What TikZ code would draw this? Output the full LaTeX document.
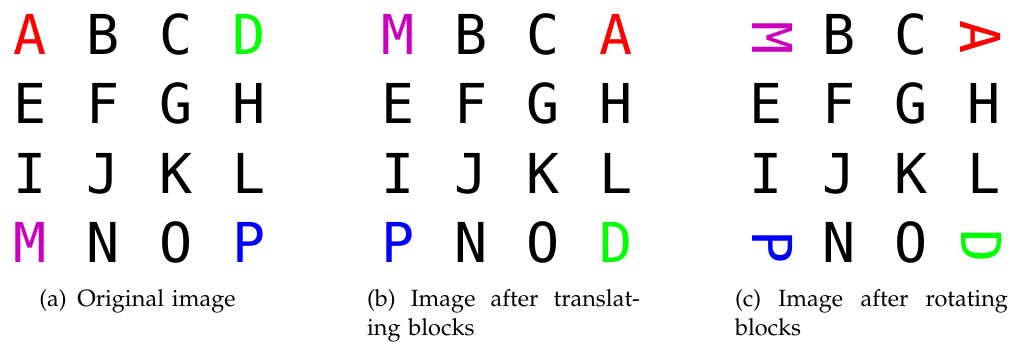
\documentclass[tikz,border=0pt]{standalone}
\usepackage[T1]{fontenc}
\usepackage{fontspec}
\newfontfamily\lettersfont{DejaVu Sans Mono}
\newcommand\capfont{\fontencoding{T1}\fontfamily{ppl}\fontsize{23.5}{29}\selectfont}
\definecolor{lred}{RGB}{255,0,0}
\definecolor{lgreen}{RGB}{0,255,0}
\definecolor{lmag}{RGB}{204,0,187}
\definecolor{lblue}{RGB}{0,0,255}
\tikzset{
  letter/.style={inner sep=0pt, outer sep=0pt, anchor=base, font=\lettersfont\fontsize{55}{55}\selectfont},
  rletter/.style={inner sep=0pt, outer sep=0pt, anchor=center, rotate=-90, font=\lettersfont\fontsize{55}{55}\selectfont},
  capbox/.style={inner sep=0pt, outer sep=0pt, anchor=base west, text width=273pt, font=\capfont}
}
\begin{document}
\begin{tikzpicture}[x=1pt,y=-1pt]
\useasboundingbox (0,0) rectangle (1012,341);
% panel (a)
\node[letter,lred]   (a1)  at (30.5,54)    {A};
\node[letter]        (a2)  at (103.3,54)   {B};
\node[letter]        (a3)  at (176.1,54)   {C};
\node[letter,lgreen] (a4)  at (248.9,54)   {D};
\node[letter]        (a5)  at (30.5,123.5) {E};
\node[letter]        (a6)  at (103.3,123.5){F};
\node[letter]        (a7)  at (176.1,123.5){G};
\node[letter]        (a8)  at (248.9,123.5){H};
\node[letter]        (a9)  at (30.5,193)   {I};
\node[letter]        (a10) at (103.3,193)  {J};
\node[letter]        (a11) at (176.1,193)  {K};
\node[letter]        (a12) at (248.9,193)  {L};
\node[letter,lmag]   (a13) at (30.5,262.5) {M};
\node[letter]        (a14) at (103.3,262.5){N};
\node[letter]        (a15) at (176.1,262.5){O};
\node[letter,lblue]  (a16) at (248.9,262.5){P};
% panel (b)
\node[letter,lmag]   (b1)  at (398,54)     {M};
\node[letter]        (b2)  at (470.7,54)   {B};
\node[letter]        (b3)  at (543.4,54)   {C};
\node[letter,lred]   (b4)  at (616.1,54)   {A};
\node[letter]        (b5)  at (398,123.5)  {E};
\node[letter]        (b6)  at (470.7,123.5){F};
\node[letter]        (b7)  at (543.4,123.5){G};
\node[letter]        (b8)  at (616.1,123.5){H};
\node[letter]        (b9)  at (398,193)    {I};
\node[letter]        (b10) at (470.7,193)  {J};
\node[letter]        (b11) at (543.4,193)  {K};
\node[letter]        (b12) at (616.1,193)  {L};
\node[letter,lblue]  (b13) at (398,262.5)  {P};
\node[letter]        (b14) at (470.7,262.5){N};
\node[letter]        (b15) at (543.4,262.5){O};
\node[letter,lgreen] (b16) at (616.1,262.5){D};
% panel (c)
\node[rletter,lmag]  (c1)  at (773,38)     {M};
\node[letter]        (c2)  at (838.7,54)   {B};
\node[letter]        (c3)  at (911.0,54)   {C};
\node[rletter,lred]  (c4)  at (981,37.5)   {A};
\node[letter]        (c5)  at (766,123.5)  {E};
\node[letter]        (c6)  at (838.7,123.5){F};
\node[letter]        (c7)  at (911.0,123.5){G};
\node[letter]        (c8)  at (984,123.5)  {H};
\node[letter]        (c9)  at (766,193)    {I};
\node[letter]        (c10) at (838.7,193)  {J};
\node[letter]        (c11) at (911.0,193)  {K};
\node[letter]        (c12) at (984,193)    {L};
\node[rletter,lblue] (c13) at (773,247)    {P};
\node[letter]        (c14) at (838.7,262.5){N};
\node[letter]        (c15) at (911.0,262.5){O};
\node[rletter,lgreen](c16) at (982,246)    {D};
% captions
\node[capbox, align=center] (capa) at (1,306) {(a)\hspace{0.45em}Original image};
\node[capbox, align=left] (capb) at (367,306) {\makebox[273pt]{(b)\hfill Image\hfill after\hfill translat-}\\ing blocks};
\node[capbox, align=left] (capc) at (735,306) {\makebox[273pt]{(c)\hfill Image\hfill after\hfill rotating}\\blocks};
\end{tikzpicture}
\end{document}
